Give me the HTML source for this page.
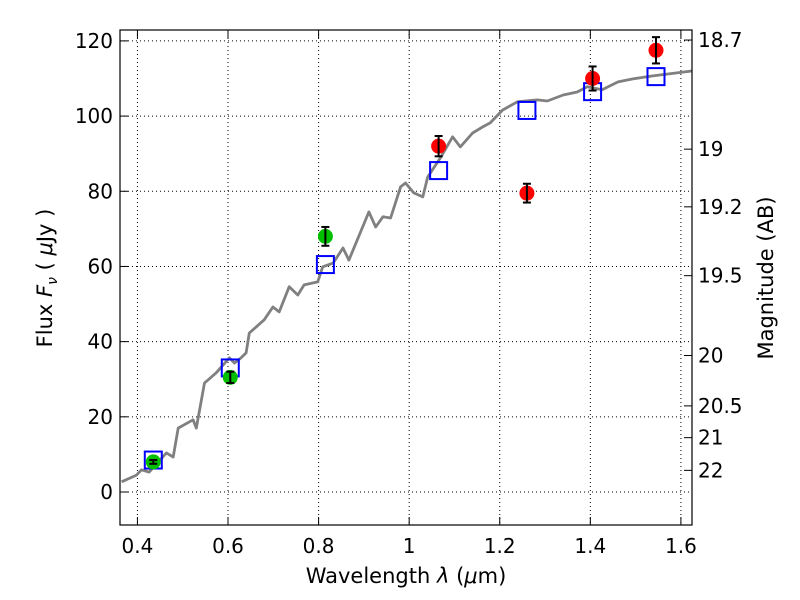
<!DOCTYPE html>
<html><head><meta charset="utf-8">
<style>
body{margin:0;background:#fff;}
svg{display:block;font-family:"DejaVu Sans","Liberation Sans",sans-serif;}
</style></head>
<body>
<svg id="chart" width="800" height="600" xmlns="http://www.w3.org/2000/svg"></svg>
<script>
const xTicks=[0.4,0.6,0.8,1.0,1.2,1.4,1.6];
const xTickLabels=["0.4","0.6","0.8","1","1.2","1.4","1.6"];
const yTicks=[0,20,40,60,80,100,120];
const magTicks=[18.7,19,19.2,19.5,20,20.5,21,22];
const specX=[0.365,0.398,0.409,0.426,0.464,0.479,0.490,0.523,0.530,0.548,0.574,0.603,0.614,0.629,0.640,0.647,0.680,0.699,0.713,0.735,0.754,0.768,0.798,0.809,0.832,0.854,0.867,0.911,0.926,0.942,0.959,0.981,0.992,1.010,1.030,1.041,1.069,1.096,1.113,1.140,1.162,1.179,1.206,1.239,1.283,1.305,1.340,1.371,1.393,1.426,1.461,1.494,1.538,1.591,1.624];
const specY=[2.7,4.5,5.9,5.3,10.4,9.3,17,19.2,17,29,31.7,35.7,34.3,35.7,37,42.3,45.8,49.2,47.9,54.6,52.4,55.1,55.9,59.9,60.9,64.9,61.7,74.5,70.5,73.2,72.9,81.2,82.2,79.6,78.5,83.8,88.9,94.5,91.8,95.5,97.1,98.2,101.6,103.8,104.3,104,105.6,106.4,107.8,107,109.1,109.9,110.7,111.5,112];
const greenX=[0.435,0.605,0.815];
const greenY=[8,30.5,68];
const greenErr=[0.5,1.5,2.5];
const redX=[1.065,1.26,1.405,1.545];
const redY=[92,79.5,110,117.5];
const redErr=[2.7,2.5,3.2,3.5];
const modelX=[0.435,0.605,0.815,1.065,1.26,1.405,1.545];
const modelY=[8.5,33,60.5,85.5,101.5,106.5,110.5];

const L=120,R=692,T=30,B=525;
const xMin=0.3615,xMax=1.6245,yMin=-8.78,yMax=122.9;
const sx=v=>L+(v-xMin)/(xMax-xMin)*(R-L);
const sy=v=>B-(v-yMin)/(yMax-yMin)*(B-T);
const svg=document.getElementById('chart');
const NS="http://www.w3.org/2000/svg";
function mk(tag,attrs,parent){const e=document.createElementNS(NS,tag);for(const k in attrs)e.setAttribute(k,attrs[k]);(parent||svg).appendChild(e);return e;}

const grid=mk('g',{});


xTicks.forEach(t=>{mk('line',{x1:sx(t),x2:sx(t),y1:T,y2:B,stroke:'#000','stroke-width':1,'stroke-dasharray':'1,3'},grid);});
yTicks.forEach(t=>{mk('line',{x1:L,x2:R,y1:sy(t),y2:sy(t),stroke:'#000','stroke-width':1,'stroke-dasharray':'1,3'},grid);});

const pts=specX.map((x,i)=>sx(x).toFixed(1)+','+sy(specY[i]).toFixed(1)).join(' ');
const spec=mk('polyline',{points:pts,fill:'none',stroke:'#808080','stroke-width':2.8,'stroke-linejoin':'round'});



modelX.forEach((x,i)=>{
  const r=mk('rect',{x:sx(x)-8.5,y:sy(modelY[i])-8.5,width:17,height:17,fill:'none',stroke:'#0000ff','stroke-width':2});
  
  
});
function pointsSeries(xs,ys,es,color,name){
  xs.forEach((x,i)=>{
    const g=mk('g',{});
    
    
    mk('circle',{cx:sx(x),cy:sy(ys[i]),r:7.5,fill:color},g);
    const y1=sy(ys[i]+es[i]),y2=sy(ys[i]-es[i]),cx=sx(x);
    mk('line',{x1:cx,x2:cx,y1:y1,y2:y2,stroke:'#000','stroke-width':2},g);
    mk('line',{x1:cx-4,x2:cx+4,y1:y1,y2:y1,stroke:'#000','stroke-width':2},g);
    mk('line',{x1:cx-4,x2:cx+4,y1:y2,y2:y2,stroke:'#000','stroke-width':2},g);
  });
}
pointsSeries(greenX,greenY,greenErr,'#00c000','optical-photometry-point');
pointsSeries(redX,redY,redErr,'#ff0000','nir-photometry-point');

const fr=mk('rect',{x:L,y:T,width:R-L,height:B-T,fill:'none',stroke:'#000','stroke-width':1.2});



xTicks.forEach((t,i)=>{
  const x=sx(t);
  mk('line',{x1:x,x2:x,y1:B,y2:B-8,stroke:'#000'});
  mk('line',{x1:x,x2:x,y1:T,y2:T+8,stroke:'#000'});
  const tx=mk('text',{x:x,y:B+28,'font-size':20,'text-anchor':'middle'});
  tx.textContent=xTickLabels[i];
  
  
});
yTicks.forEach(t=>{
  const y=sy(t);
  mk('line',{x1:L,x2:L+8,y1:y,y2:y,stroke:'#000'});
  const tx=mk('text',{x:L-7,y:y+7,'font-size':20,'text-anchor':'end'});
  tx.textContent=String(t);
  
  
});
magTicks.forEach(m=>{
  const y=sy(Math.pow(10,(23.9-m)/2.5));
  mk('line',{x1:R,x2:R-8,y1:y,y2:y,stroke:'#000'});
  const tx=mk('text',{x:R+6,y:y+7,'font-size':20,'text-anchor':'start'});
  tx.textContent=String(m);
  
  
});
</script>
<svg style="position:absolute;left:0;top:0" width="800" height="600" xmlns="http://www.w3.org/2000/svg" font-family="DejaVu Sans, Liberation Sans, sans-serif">
  <text x="406" y="583" font-size="21" text-anchor="middle">Wavelength  <tspan font-style="italic">λ</tspan> (<tspan font-style="italic">μ</tspan>m)</text>
  <text transform="translate(52,278) rotate(-90)" font-size="21" text-anchor="middle">Flux  <tspan font-style="italic">F</tspan><tspan font-style="italic" font-size="14" dy="5">ν</tspan><tspan dy="-5">  ( </tspan><tspan font-style="italic">μ</tspan>Jy )</text>
  <text transform="translate(773,278) rotate(-90)" font-size="21" text-anchor="middle">Magnitude (AB)</text>
</svg>
</body></html>
